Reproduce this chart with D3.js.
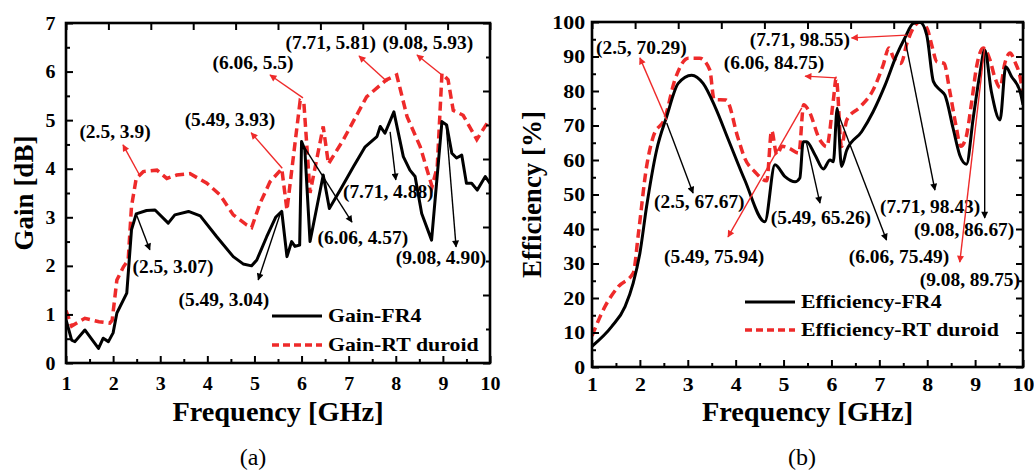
<!DOCTYPE html>
<html>
<head>
<meta charset="utf-8">
<script src="https://cdn.jsdelivr.net/npm/d3@7"></script>
<style>body{margin:0;background:#fff}</style>
</head>
<body>
<svg id="fig" width="1034" height="470"></svg>
<script>
// ---- data ----
const freqTicks = [1, 2, 3, 4, 5, 6, 7, 8, 9, 10];
const gainTicks = [0, 1, 2, 3, 4, 5, 6, 7];
const effTicks = [0, 10, 20, 30, 40, 50, 60, 70, 80, 90, 100];

// (a) gain, FR4 substrate
const gainFR4F = [1.0, 1.12, 1.19, 1.4, 1.69, 1.79, 1.9, 2.0, 2.08, 2.29, 2.39, 2.49, 2.71, 2.89, 3.17, 3.31, 3.6, 3.85,
  4.2, 4.55, 4.76, 4.94, 5.05, 5.26, 5.45, 5.58, 5.69, 5.79, 5.86, 5.96, 6.0, 6.07, 6.18, 6.46, 6.59, 6.82, 7.1, 7.35,
  7.6, 7.67, 7.77, 7.96, 8.16, 8.3, 8.41, 8.55, 8.76, 8.98, 9.08, 9.19, 9.29, 9.4, 9.5, 9.61, 9.73, 9.9, 10.0];
const gainFR4 = [0.89, 0.47, 0.44, 0.68, 0.3, 0.51, 0.44, 0.62, 1.03, 1.44, 2.74, 3.07, 3.14, 3.15, 2.88, 3.05, 3.12, 3.03,
  2.6, 2.19, 2.04, 2.0, 2.12, 2.6, 3.0, 3.12, 2.19, 2.5, 2.4, 2.43, 4.56, 4.39, 2.5, 3.87, 3.18, 3.56, 4.04, 4.45,
  4.66, 4.87, 4.73, 5.17, 4.25, 3.97, 3.84, 3.08, 2.53, 4.97, 4.9, 4.32, 4.22, 4.28, 3.7, 3.7, 3.56, 3.84, 3.7];

// (a) gain, RT duroid substrate
const gainRTF = [1.0, 1.12, 1.4, 1.7, 1.93, 1.98, 2.08, 2.22, 2.32, 2.39, 2.49, 2.64, 2.93, 3.14, 3.35, 3.63, 3.99, 4.27,
  4.55, 4.84, 4.94, 5.12, 5.33, 5.58, 5.69, 5.97, 6.05, 6.18, 6.46, 6.57, 6.89, 7.38, 7.8, 8.02, 8.24, 8.52, 8.77, 8.88,
  8.98, 9.11, 9.22, 9.43, 9.72, 9.96, 10.0];
const gainRT = [1.08, 0.76, 0.92, 0.85, 0.82, 0.88, 1.71, 1.98, 2.12, 3.22, 3.8, 3.94, 3.97, 3.8, 3.87, 3.9, 3.7, 3.46,
  3.05, 2.84, 2.79, 3.29, 3.73, 4.0, 3.15, 5.4, 5.35, 3.5, 4.87, 4.1, 4.6, 5.48, 5.83, 5.93, 5.07, 4.45, 3.63, 4.04,
  5.96, 5.83, 5.2, 5.1, 4.6, 4.97, 4.95];

// (b) efficiency, FR4 substrate
const effFR4F = [1.0, 1.41, 1.69, 1.86, 2.0, 2.14, 2.35, 2.56, 2.8, 3.08, 3.32, 3.57, 3.85, 4.19, 4.61, 4.82, 5.03, 5.24,
  5.34, 5.41, 5.48, 5.66, 5.83, 5.97, 6.04, 6.12, 6.21, 6.32, 6.63, 6.87, 7.12, 7.36, 7.53, 7.71, 7.85, 7.99, 8.13, 8.27,
  8.37, 8.54, 8.68, 8.82, 8.96, 9.1, 9.2, 9.34, 9.52, 9.64, 9.76, 9.94, 10.0];
const effFR4 = [6, 11.7, 17.5, 24.3, 33, 46.5, 62.9, 72.6, 82.2, 84.6, 82.2, 75.4, 65.8, 54.2, 42.1, 58.6, 55.2, 53.7,
  54.8, 65.3, 65.3, 61.4, 57.4, 60, 59.5, 75, 58.1, 62.9, 68.2, 74, 81.7, 90.4, 95.3, 99.6, 99.9, 96.2, 82.7, 80.3,
  78.8, 69.2, 61.4, 58.8, 72.1, 85.1, 91.9, 79.8, 71.6, 87, 84.2, 79.8, 76];

// (b) efficiency, RT duroid substrate
const effRTF = [1.0, 1.27, 1.55, 1.86, 1.97, 2.14, 2.28, 2.52, 2.73, 3.01, 3.25, 3.46, 3.55, 3.8, 4.05, 4.19, 4.4, 4.65,
  4.75, 4.86, 4.97, 5.1, 5.32, 5.42, 5.52, 5.76, 5.9, 6.04, 6.1, 6.21, 6.32, 6.6, 6.87, 7.08, 7.2, 7.3, 7.45, 7.58, 7.72,
  7.85, 8.0, 8.1, 8.2, 8.35, 8.47, 8.6, 8.7, 8.8, 8.93, 9.03, 9.17, 9.31, 9.41, 9.52, 9.62, 9.73, 9.83, 9.94, 10.0];
const effRT = [9, 17.5, 23.3, 27.2, 38.8, 58.1, 66.8, 72.1, 83.2, 89.5, 89.5, 86.1, 77.5, 77.4, 66.3, 60.5, 56.6, 54,
  68.5, 61.5, 64, 63.5, 62, 76, 74.5, 65.8, 63.9, 77.4, 83.7, 63.9, 71.6, 75.4, 80.3, 87.5, 92.5, 89.5, 88, 94, 98.5,
  100, 98, 93, 88.5, 88, 80, 70, 64, 66, 77, 87, 92.5, 89, 84, 81, 88, 91, 88.5, 84, 79];

// annotations in data units: [label, colour key, point f, point v, head f, head v, label f, label v]
const gainNotes = [
  ["(2.5, 3.9)", "r", 2.56, 3.87, 2.21, 4.49, 2.04, 4.76],
  ["(5.49, 3.93)", "r", 5.59, 4.01, 4.93, 4.74, 4.48, 5.0],
  ["(6.06, 5.5)", "r", 6.03, 5.46, 5.33, 5.93, 4.97, 6.18],
  ["(7.71, 5.81)", "r", 7.82, 5.79, 7.22, 6.32, 6.62, 6.59],
  ["(9.08, 5.93)", "r", 8.98, 5.93, 8.45, 6.34, 8.68, 6.59],
  ["(2.5, 3.07)", "k", 2.49, 3.07, 2.78, 2.33, 3.27, 1.98],
  ["(5.49, 3.04)", "k", 5.56, 3.11, 5.08, 1.71, 4.35, 1.3],
  ["(6.06, 4.57)", "k", 6.0, 4.53, 7.07, 2.9, 7.3, 2.57],
  ["(7.71, 4.88)", "k", 7.88, 4.76, 8.0, 3.77, 7.84, 3.52],
  ["(9.08, 4.90)", "k", 9.07, 4.9, 9.28, 2.39, 8.96, 2.16]
];
const effNotes = [
  ["(2.5, 70.29)", "r", 2.56, 71.6, 2.0, 89.6, 2.03, 92.5],
  ["(2.5, 67.67)", "k", 2.56, 70.7, 3.11, 50.4, 3.24, 47.8],
  ["(5.49, 75.94)", "r", 5.38, 75.1, 3.84, 37.7, 3.55, 31.9],
  ["(5.49, 65.26)", "k", 5.48, 64.9, 5.76, 47.5, 5.78, 43.2],
  ["(6.06, 84.75)", "r", 6.11, 83.8, 5.45, 84.3, 4.8, 88.1],
  ["(6.06, 75.49)", "k", 6.11, 74.5, 7.15, 36.8, 7.41, 31.9],
  ["(7.71, 98.55)", "r", 7.57, 96.2, 6.42, 95.4, 5.34, 94.8],
  ["(7.71, 98.43)", "k", 7.53, 95.4, 8.16, 51.3, 8.06, 46.4],
  ["(9.08, 86.67)", "k", 9.2, 91.9, 9.2, 43.2, 8.77, 39.7],
  ["(9.08, 89.75)", "r", 9.2, 92.5, 8.68, 30.4, 8.89, 25.2]
];

// ---- drawing ----
const svg = d3.select("#fig");
const FONT = "'Liberation Serif','Times New Roman',serif";
const RED = "#ee2a2a";
const COL = { r: RED, k: "#000" };

svg.append("rect").attr("width", 1034).attr("height", 470).attr("fill", "#fff");

const defs = svg.append("defs");
[["arrow-k", "#000"], ["arrow-r", RED]].forEach(([id, c]) => {
  defs.append("marker").attr("id", id)
      .attr("viewBox", "0 0 10 10").attr("refX", 9).attr("refY", 5)
      .attr("markerWidth", 10).attr("markerHeight", 7)
      .attr("markerUnits", "userSpaceOnUse").attr("orient", "auto")
      .append("path").attr("d", "M0,0L10,5L0,10z").attr("fill", c);
});

function addText(g, x, y, s, size, sx, anchor, weight) {
  return g.append("text")
          .attr("transform", `translate(${x},${y}) scale(${sx},1)`)
          .attr("text-anchor", anchor || "middle")
          .attr("dominant-baseline", "central")
          .attr("font-family", FONT)
          .attr("font-size", size)
          .attr("font-weight", weight || "bold")
          .text(s);
}

function halves(ticks) {
  const out = [];
  for (let i = 0; i < ticks.length - 1; ++i) out.push((ticks[i] + ticks[i + 1]) / 2);
  return out;
}

function drawPanel(cfg) {
  const g = svg.append("g");
  const x = d3.scaleLinear().domain([1, 10]).range([cfg.left, cfg.right]);
  const y = d3.scaleLinear().domain([0, cfg.yTicks[cfg.yTicks.length - 1]]).range([cfg.bottom, cfg.top]);

  defs.append("clipPath").attr("id", cfg.id + "-clip")
      .append("rect").attr("x", cfg.left).attr("y", cfg.top)
      .attr("width", cfg.right - cfg.left).attr("height", cfg.bottom - cfg.top);

  const line = d3.line().x(d => x(d[0])).y(d => y(d[1])).curve(cfg.curve);
  const plot = g.append("g").attr("clip-path", `url(#${cfg.id}-clip)`);

  plot.append("path").datum(d3.zip(cfg.rtF, cfg.rt))
      .attr("d", line).attr("fill", "none")
      .attr("stroke", RED).attr("stroke-width", 3.5).attr("stroke-dasharray", "9,5");
  plot.append("path").datum(d3.zip(cfg.fr4F, cfg.fr4))
      .attr("d", line).attr("fill", "none")
      .attr("stroke", "#000").attr("stroke-width", 3).attr("stroke-linejoin", "round");

  // annotations
  cfg.notes.forEach(n => {
    g.append("line")
     .attr("x1", x(n[2])).attr("y1", y(n[3]))
     .attr("x2", x(n[4])).attr("y2", y(n[5]))
     .attr("stroke", COL[n[1]]).attr("stroke-width", 1.4)
     .attr("marker-end", `url(#arrow-${n[1]})`);
    addText(g, x(n[6]), y(n[7]), n[0], 18, 1.08);
  });

  // axes, ticks pointing inward
  const yMax = cfg.yTicks[cfg.yTicks.length - 1];
  const topTicks = d3.range(11).map(i => 1 + 0.9 * i);
  const rightTicks = d3.range(6).map(i => yMax * i / 5);
  const rightMinor = halves(rightTicks);

  const axes = [
    [d3.axisBottom(x).tickValues(freqTicks).tickSize(-7).tickPadding(cfg.xPad).tickFormat(d3.format("d")), `translate(0,${cfg.bottom})`],
    [d3.axisBottom(x).tickValues(halves(freqTicks)).tickSize(-4).tickFormat(""), `translate(0,${cfg.bottom})`],
    [d3.axisLeft(y).tickValues(cfg.yTicks).tickSize(-7).tickPadding(cfg.yPad).tickFormat(d3.format("d")), `translate(${cfg.left},0)`],
    [d3.axisLeft(y).tickValues(halves(cfg.yTicks)).tickSize(-4).tickFormat(""), `translate(${cfg.left},0)`],
    [d3.axisTop(x).tickValues(topTicks).tickSize(-7).tickFormat(""), `translate(0,${cfg.top})`],
    [d3.axisRight(y).tickValues(cfg.rightEven ? cfg.yTicks : rightTicks).tickSize(-7).tickFormat(""), `translate(${cfg.right},0)`],
    [d3.axisRight(y).tickValues(cfg.rightEven ? halves(cfg.yTicks) : rightMinor).tickSize(-4).tickFormat(""), `translate(${cfg.right},0)`]
  ];
  axes.forEach(([ax, tr]) => {
    const a = g.append("g").attr("transform", tr).call(ax);
    a.select(".domain").remove();
    a.selectAll("line").attr("stroke", "#000").attr("stroke-width", 2);
    a.selectAll("text").attr("font-family", FONT).attr("font-size", 19)
     .attr("font-weight", "bold").attr("fill", "#000")
     .attr("transform", `scale(${cfg.tickSx},1)`);
  });

  g.append("rect")
   .attr("x", cfg.left).attr("y", cfg.top)
   .attr("width", cfg.right - cfg.left).attr("height", cfg.bottom - cfg.top)
   .attr("fill", "none").attr("stroke", "#000").attr("stroke-width", 2.6);

  // legend
  const lg = cfg.legend;
  g.append("line").attr("x1", lg.x).attr("x2", lg.x + 50).attr("y1", lg.y1).attr("y2", lg.y1)
   .attr("stroke", "#000").attr("stroke-width", 3.2);
  g.append("line").attr("x1", lg.x).attr("x2", lg.x + 50).attr("y1", lg.y2).attr("y2", lg.y2)
   .attr("stroke", RED).attr("stroke-width", 3.5).attr("stroke-dasharray", "7,4");
  addText(g, lg.x + 56, lg.y1, cfg.names[0], 18.5, 1.18, "start");
  addText(g, lg.x + 56, lg.y2, cfg.names[1], 18.5, 1.18, "start");

  // axis titles and caption
  const cx = (cfg.left + cfg.right) / 2;
  addText(g, cx, 412, "Frequency [GHz]", 27, 1.05);
  g.append("text")
   .attr("transform", `translate(${cfg.titleX},${(cfg.top + cfg.bottom) / 2}) rotate(-90)`)
   .attr("text-anchor", "middle")
   .attr("font-family", FONT).attr("font-size", 27).attr("font-weight", "bold")
   .text(cfg.yTitle);
  addText(g, cfg.capX, 457, cfg.caption, 24, 1, "middle", "normal");
}

drawPanel({
  id: "gain", left: 66, right: 490, top: 23, bottom: 363,
  yTicks: gainTicks, rightEven: false, xPad: 14, yPad: 10, tickSx: 1.05,
  fr4F: gainFR4F, fr4: gainFR4, rtF: gainRTF, rt: gainRT,
  curve: d3.curveLinear, notes: gainNotes,
  legend: { x: 272, y1: 316, y2: 345 },
  names: ["Gain-FR4", "Gain-RT duroid"],
  yTitle: "Gain [dB]", titleX: 33, caption: "(a)", capX: 253
});

drawPanel({
  id: "eff", left: 592, right: 1023, top: 22, bottom: 367,
  yTicks: effTicks, rightEven: true, xPad: 11, yPad: 6, tickSx: 1.15,
  fr4F: effFR4F, fr4: effFR4, rtF: effRTF, rt: effRT,
  curve: d3.curveMonotoneX, notes: effNotes,
  legend: { x: 745, y1: 302, y2: 330 },
  names: ["Efficiency-FR4", "Efficiency-RT duroid"],
  yTitle: "Efficiency [%]", titleX: 541, caption: "(b)", capX: 802
});
</script>
</body>
</html>
